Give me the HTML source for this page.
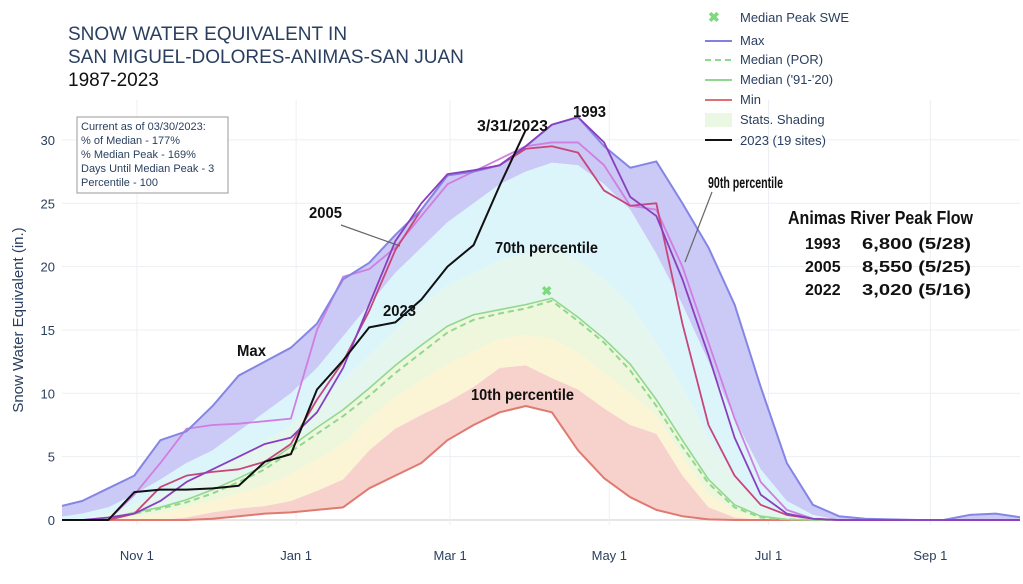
<!DOCTYPE html>
<html><head><meta charset="utf-8"><style>
body{margin:0;background:#fff;}
svg{display:block;font-family:"Liberation Sans",sans-serif;}
.ann{font-weight:bold;fill:#111;}
</style></head><body>
<svg id="chart" width="1023" height="584" viewBox="0 0 1023 584">
<g fill="#2a3f5f">
<text x="68" y="40" font-size="19">SNOW WATER EQUIVALENT IN</text>
<text x="68" y="63" font-size="19">SAN MIGUEL-DOLORES-ANIMAS-SAN JUAN</text>
<text x="68" y="86" font-size="19" fill="#111">1987-2023</text>
</g>
<g id="grid"></g>
<defs><clipPath id="pc"><rect x="62" y="100" width="958" height="425"/></clipPath></defs>
<g id="bands" clip-path="url(#pc)"></g>
<g id="lines" clip-path="url(#pc)"></g>
<g id="axes"></g>
<text transform="translate(23,320) rotate(-90)" text-anchor="middle" font-size="15" fill="#2a3f5f">Snow Water Equivalent (in.)</text>
<g>
<rect x="77" y="117" width="151" height="76" fill="#fff" stroke="#999"/>
<g font-size="11" fill="#2a3f5f">
<text x="81" y="130">Current as of 03/30/2023:</text>
<text x="81" y="144">% of Median - 177%</text>
<text x="81" y="158">% Median Peak - 169%</text>
<text x="81" y="172">Days Until Median Peak - 3</text>
<text x="81" y="186">Percentile - 100</text>
</g></g>
<g font-size="13" fill="#2a3f5f">
<text x="708" y="22" font-size="14" fill="#7ed87e" font-weight="bold">✖</text><text x="740" y="22">Median Peak SWE</text>
<line x1="705" y1="41" x2="732" y2="41" stroke="#8080e0" stroke-width="2"/><text x="740" y="45">Max</text>
<line x1="705" y1="60" x2="732" y2="60" stroke="#90d890" stroke-width="2" stroke-dasharray="6,4"/><text x="740" y="64">Median (POR)</text>
<line x1="705" y1="80" x2="732" y2="80" stroke="#90d890" stroke-width="2"/><text x="740" y="84">Median ('91-'20)</text>
<line x1="705" y1="100" x2="732" y2="100" stroke="#e07070" stroke-width="2"/><text x="740" y="104">Min</text>
<rect x="705" y="113" width="27" height="14" fill="#eaf7e2"/><text x="740" y="124">Stats. Shading</text>
<line x1="705" y1="140" x2="732" y2="140" stroke="#111" stroke-width="2"/><text x="740" y="145">2023 (19 sites)</text>
</g>
<g>
<text class="ann" x="237" y="356" font-size="16" textLength="29" lengthAdjust="spacingAndGlyphs">Max</text>
<text class="ann" x="309" y="218" font-size="16" textLength="33" lengthAdjust="spacingAndGlyphs">2005</text>
<line x1="341" y1="225" x2="400" y2="246" stroke="#666" stroke-width="1.2"/>
<text class="ann" x="383" y="316" font-size="16" textLength="33" lengthAdjust="spacingAndGlyphs">2023</text>
<text class="ann" x="477" y="131" font-size="16" textLength="71" lengthAdjust="spacingAndGlyphs">3/31/2023</text>
<text class="ann" x="573" y="117" font-size="16" textLength="33" lengthAdjust="spacingAndGlyphs">1993</text>
<text class="ann" x="495" y="253" font-size="16" textLength="103" lengthAdjust="spacingAndGlyphs">70th percentile</text>
<text class="ann" x="471" y="400" font-size="16" textLength="103" lengthAdjust="spacingAndGlyphs">10th percentile</text>
<text class="ann" x="708" y="188" font-size="16" textLength="75" lengthAdjust="spacingAndGlyphs">90th percentile</text>
<line x1="712" y1="192" x2="685" y2="262" stroke="#666" stroke-width="1.2"/>
<text class="ann" x="788" y="224" font-size="18" textLength="185" lengthAdjust="spacingAndGlyphs">Animas River Peak Flow</text>
<text class="ann" x="805" y="249" font-size="16">1993</text>
<text class="ann" x="862" y="249" font-size="16" textLength="109" lengthAdjust="spacingAndGlyphs">6,800 (5/28)</text>
<text class="ann" x="805" y="272" font-size="16">2005</text>
<text class="ann" x="862" y="272" font-size="16" textLength="109" lengthAdjust="spacingAndGlyphs">8,550 (5/25)</text>
<text class="ann" x="805" y="295" font-size="16">2022</text>
<text class="ann" x="862" y="295" font-size="16" textLength="109" lengthAdjust="spacingAndGlyphs">3,020 (5/16)</text>
</g>
</svg>
<script>
const days=[0,10,20,30,40,50,60,70,80,90,100,110,120,130,140,150,160,170,180,190,200,210,220,230,240,250,260,270,280,290,300,310,320,330,340,350,360,370];
const maxV=[1.0,1.5,2.5,3.5,6.3,7.0,9.0,11.4,12.5,13.6,15.5,19.0,20.3,22.5,24.5,27.2,27.5,28.0,29.5,31.2,31.8,29.5,27.8,28.3,25,21.5,17,10.5,4.5,1.2,0.3,0.1,0.05,0,0,0.4,0.5,0.2];
const p90=[0.2,0.5,1,2,3.2,4.5,5.5,7,8.5,10,12,14.5,17,19.5,21.5,23.5,25,26.5,27.5,28.2,28,26.5,24.5,21,17,12.5,8,4,1.5,0.4,0,0,0,0,0,0,0,0];
const p70=[0,0.1,0.5,1.2,2,3,4,5,6.2,7.5,9.2,11,13,15,17,18.5,19.5,20.5,21,21.5,20.5,19,17,14,10.5,6.5,3.5,1.3,0.3,0,0,0,0,0,0,0,0,0];
const p30=[0,0,0,0.2,0.5,1,1.5,2.1,2.7,3.6,4.8,6,8,9.7,11,12.3,13.3,14.3,14.6,14.3,13.2,11.6,10,8.2,5,2,0.7,0.1,0,0,0,0,0,0,0,0,0,0];
const p10=[0,0,0,0,0,0.2,0.6,0.9,1.1,1.5,2.3,3.2,5.5,7.2,8.3,9.3,10.5,12.0,12.2,11.2,10.3,8.8,7.5,6.8,3.5,1.0,0.2,0,0,0,0,0,0,0,0,0,0,0];
const minV=[0,0,0,0,0,0,0.1,0.3,0.5,0.6,0.8,1.0,2.5,3.5,4.5,6.3,7.5,8.5,9.0,8.5,5.5,3.3,1.8,0.8,0.3,0.05,0,0,0,0,0,0,0,0,0,0,0,0];
const med=[0,0,0.1,0.6,1.0,1.6,2.4,3.3,4.3,5.8,7.3,8.7,10.4,12.2,13.8,15.3,16.2,16.6,17.0,17.5,16.0,14.3,12.3,9.5,6.3,3.2,1.2,0.3,0.05,0,0,0,0,0,0,0,0,0];
const medPOR=[0,0,0.1,0.5,0.9,1.4,2.1,3.0,4.0,5.4,6.8,8.2,9.8,11.6,13.2,14.8,15.8,16.3,16.7,17.3,15.7,14.0,11.8,9.0,5.8,2.9,1.0,0.2,0.05,0,0,0,0,0,0,0,0,0];
const y2023=[0,0,0,2.2,2.4,2.4,2.5,2.7,4.6,5.2,10.3,12.6,15.2,15.6,17.4,20.0,21.7,26.4,30.8];
const y1993=[0,0,0.2,0.5,1.5,3,4,5,6,6.5,8.5,12,17,22,25,27.3,27.6,28,29.5,31.2,31.8,29.8,25.5,24,19,13,6.5,2,0.5,0.1,0,0,0,0,0,0,0,0];
const y2005=[0,0,0,0.5,2.6,3.5,3.8,4.0,4.6,6.0,9.5,12.5,16.5,21.3,24.5,27.2,27.5,28,29.3,29.5,29.0,26,24.8,25.0,15.5,7.5,3.5,1.2,0.4,0.1,0,0,0,0,0,0,0,0];
const yOrchid=[0,0,0,2.0,4.5,7.2,7.5,7.6,7.8,8.0,15.0,19.2,19.8,21.5,24,26.5,27.5,28.5,29.5,29.8,29.8,28,24.8,24.5,20,14,8,3,0.8,0.1,0,0,0,0,0,0,0,0];
const medPeakDay=[188], medPeakVal=[18.1];
const yTicks=[0,5,10,15,20,25,30];
const xTickDays=[31,92,151,212,273,335];
const xTickLabels=["Nov 1","Jan 1","Mar 1","May 1","Jul 1","Sep 1"];
const X=d=>56+d*2.61, Y=v=>520-v*12.67;
const NS="http://www.w3.org/2000/svg";
function mk(tag,parent,attrs){const e=document.createElementNS(NS,tag);for(const k in attrs)e.setAttribute(k,attrs[k]);document.getElementById(parent).appendChild(e);return e;}
yTicks.forEach(t=>{const l=mk('line','grid',{x1:62,x2:1020,y1:Y(t),y2:Y(t),stroke:t===0?'#ccc':'#eceff3','stroke-width':1});


const tx=mk('text','axes',{x:55,y:Y(t)+5,'text-anchor':'end','font-size':13,fill:'#2a3f5f'});tx.textContent=t;

});
xTickDays.forEach((d,i)=>{const l=mk('line','grid',{x1:X(d),x2:X(d),y1:100,y2:525,stroke:'#eceff3','stroke-width':1});


const tx=mk('text','axes',{x:X(d),y:560,'text-anchor':'middle','font-size':13,fill:'#2a3f5f'});tx.textContent=xTickLabels[i];

});
function pts(arr){return arr.map((v,i)=>X(days[i])+','+Y(v));}
function band(up,lo,col,name){const p=pts(up).concat(pts(lo).reverse()).join(' ');const e=mk('polygon','bands',{points:p,fill:col});

}
band(maxV,p90,'#cbc9f5','band-90-max');
band(p90,p70,'#dcf5fb','band-70-90');
band(p70,med,'#e4f6ee','band-50-70');
band(med,p30,'#eef7dc','band-30-50');
band(p30,p10,'#fbf5d6','band-10-30');
band(p10,minV,'#f7d1cc','band-min-10');
function line(arr,col,w,name,dash){const e=mk('polyline','lines',{points:pts(arr).join(' '),fill:'none',stroke:col,'stroke-width':w,'stroke-linejoin':'round'});if(dash)e.setAttribute('stroke-dasharray',dash);

}
line(minV,'#e07a70',2,'min-line');
line(medPOR,'#90d890',2,'median-por-line','6,4');
line(med,'#90d890',1.6,'median-91-20-line');
line(yOrchid,'#d07ee0',1.8,'year-orchid-line');
line(y2005,'#c8467a',1.8,'year-2005-line');
line(maxV,'#8585e6',2,'max-line');
line(y1993,'#8a3fbf',1.8,'year-1993-line');
line(y2023,'#111',2,'year-2023-line');
const m=mk('text','lines',{x:X(medPeakDay[0]),y:Y(medPeakVal[0])+5,'text-anchor':'middle','font-size':13,'font-weight':'bold',fill:'#7ed87e'});m.textContent='✖';


</script>
</body></html>
